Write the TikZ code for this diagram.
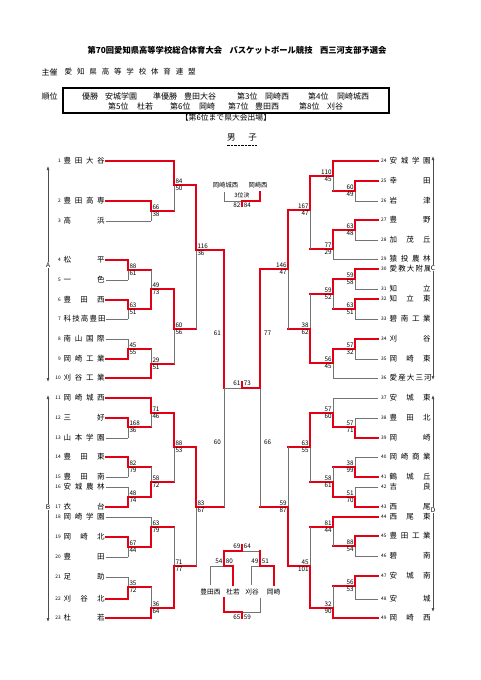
\documentclass[tikz,border=0pt]{standalone}
\usepackage{fontspec}
\setmainfont{Noto Sans CJK JP}
\usetikzlibrary{arrows.meta}
\definecolor{winred}{RGB}{228,0,20}
\definecolor{losegray}{RGB}{115,115,115}
\newcommand{\fs}[1]{\fontsize{#1}{#1}\selectfont}
\tikzset{
  wline/.style={winred,line width=1.6pt,line cap=rect},
  lline/.style={losegray,line width=0.8pt},
  score/.style={font=\fs{6.3},inner sep=0pt},
  tname/.style={font=\fs{7.5},inner sep=0pt},
  tnum/.style={font=\fs{4.8},inner sep=0pt},
  small/.style={font=\fs{6.7},inner sep=0pt},
  sidearr/.style={black!70,line width=0.6pt,{Latex[length=4pt,width=3pt]}-{Latex[length=4pt,width=3pt]}},
  blk/.style={fill=white,inner sep=0.8pt,font=\fs{6.5}},
}
% match: x, upper y, lower y, junction y, out x, upper score, lower score
\newcommand{\lmatch}[7]{
  \draw[lline] (#1,#2) -- (#1,#3);
  \ifnum#6>#7\relax \draw[wline] (#1,#2) -- (#1,#4) -- (#5,#4);
  \else \draw[wline] (#1,#3) -- (#1,#4) -- (#5,#4); \fi
  \node[score,anchor=south west,xshift=1.3pt,yshift=1.1pt] (a#1-#4) at (#1,#4) {#6};
  \node[score,anchor=north west,xshift=1.3pt,yshift=-1.1pt] (b#1-#4) at (#1,#4) {#7};
}
\newcommand{\rmatch}[7]{
  \draw[lline] (#1,#2) -- (#1,#3);
  \ifnum#6>#7\relax \draw[wline] (#1,#2) -- (#1,#4) -- (#5,#4);
  \else \draw[wline] (#1,#3) -- (#1,#4) -- (#5,#4); \fi
  \node[score,anchor=south east,xshift=-1.3pt,yshift=1.1pt] (a#1-#4) at (#1,#4) {#6};
  \node[score,anchor=north east,xshift=-1.3pt,yshift=-1.1pt] (b#1-#4) at (#1,#4) {#7};
}

\begin{document}
\begin{tikzpicture}[x=1pt,y=-1pt]
\useasboundingbox (0,0) rectangle (481,680);
\fill[white] (0,0) rectangle (481,680);

% header
\node[font=\fs{8.3}\bfseries,inner sep=0pt] (title) at (237,50) {第70回愛知県高等学校総合体育大会\hspace{0.9em}バスケットボール競技\hspace{0.9em}西三河支部予選会};
\node[anchor=west,font=\fs{8},inner sep=0pt] (host) at (41.5,72) {主催};
\node[anchor=west,font=\fs{7.5},inner sep=0pt] (hostorg) at (64.5,72) {\makebox[131pt][s]{愛 知 県 高 等 学 校 体 育 連 盟}};
\node[anchor=west,font=\fs{8},inner sep=0pt] (rank) at (41.5,96) {順位};
\draw[line width=1.2pt] (63,88) rectangle (389,113);
\foreach \x/\t in {82/優勝,105/安城学園,153/準優勝,184/豊田大谷,237/第3位,265/岡崎西,308/第4位,337/岡崎城西}
  \node[anchor=west,inner sep=0pt,font=\fs{8}] (p\x) at (\x,96) {\t};
\foreach \x/\t in {108/第5位,137/杜若,170/第6位,199/岡崎,228/第7位,255/豊田西,299/第8位,327/刈谷}
  \node[anchor=west,inner sep=0pt,font=\fs{8}] (q\x) at (\x,106.5) {\t};
\node[font=\fs{7.8},inner sep=0pt] (note) at (226,118) {【第6位まで県大会出場】};
\node[font=\fs{8.5},inner sep=0pt] (boys) at (242,138) {\makebox[30pt][s]{男 子}};
\draw[line width=0.9pt,dash pattern=on 2.5pt off 1pt] (227,145) -- (257,145);

% teams
\foreach \n/\y/\x/\st/\tn in {1/161/174/wline/豊 田 大 谷,2/201/151/wline/豊 田 高 専,3/221/151/lline/高 浜,
  4/260/128/wline/松 平,5/280/128/lline/一 色,6/300/128/wline/豊 田 西,7/319/128/lline/科 技 高 豊 田,
  8/339/128/lline/南 山 国 際,9/359/128/wline/岡 崎 工 業,10/378/151/wline/刈 谷 工 業,
  11/398/151/wline/岡 崎 城 西,12/418/128/wline/三 好,13/438/128/lline/山 本 学 園,14/457/128/wline/豊 田 東,
  15/477/128/lline/豊 田 南,16/487/128/lline/安 城 農 林,17/507/128/wline/衣 台,18/517/151/lline/岡 崎 学 園,
  19/537/128/wline/岡 崎 北,20/557/128/lline/豊 田,21/577/128/lline/足 助,22/599/128/wline/刈 谷 北,
  23/618/151/wline/杜 若} {
  \node[tnum,anchor=east] (n\n) at (61,\y) {\n};
  \node[tname,anchor=west] (t\n) at (63.5,\y) {\makebox[41pt][s]{\tn}};
  \coordinate (e\n) at (106,\y);
  \draw[\st] (e\n) -- (\x,\y);
}
\foreach \n/\y/\x/\st/\tn in {24/161/333/wline/安 城 学 園,25/181/355/wline/幸 田,26/201/355/lline/岩 津,
  27/220/355/wline/豊 野,28/240/355/lline/加 茂 丘,29/259/333/lline/猿 投 農 林,30/269/355/wline/愛 教 大 附 属,
  31/289/355/lline/知 立,32/299/355/wline/知 立 東,33/319/355/lline/碧 南 工 業,34/339/355/wline/刈 谷,
  35/359/355/lline/岡 崎 東,36/378/333/lline/愛 産 大 三 河,37/398/333/lline/安 城 東,38/418/355/lline/豊 田 北,
  39/438/355/wline/岡 崎,40/457/355/lline/岡 崎 商 業,41/477/355/wline/鶴 城 丘,42/487/355/lline/吉 良,
  43/507/355/wline/西 尾,44/517/333/wline/西 尾 東,45/536/355/wline/豊 田 工 業,46/556/355/lline/碧 南,
  47/576/355/wline/安 城 南,48/599/355/lline/安 城,49/618/333/wline/岡 崎 西} {
  \node[tnum,anchor=west] (n\n) at (381,\y) {\n};
  \node[tname,anchor=west] (t\n) at (389.5,\y) {\makebox[41pt][s]{\tn}};
  \coordinate (e\n) at (378,\y);
  \draw[\st] (e\n) -- (\x,\y);
}

% left bracket
\foreach \x/\a/\b/\j/\o/\s/\t in {128/260/280/270/151/88/61,128/300/319/309/151/63/51,128/339/359/349/151/45/55,
  128/418/438/427/151/168/36,128/457/477/467/151/82/79,128/487/507/497/151/48/74,128/537/557/547/151/67/44,
  128/577/599/587/151/35/72,151/201/221/211/174/66/38,151/270/309/289/174/49/73,151/349/378/364/174/29/51,
  151/398/427/413/174/71/46,151/467/497/482/174/58/72,151/517/547/527/174/63/79,151/587/618/608/174/36/64,
  174/161/211/185/196/84/50,174/289/364/329/196/60/56,174/413/482/447/196/88/53,174/527/608/566/196/71/77,
  196/185/329/250/224/116/36,196/447/566/507/224/83/67}
  {\lmatch{\x}{\a}{\b}{\j}{\o}{\s}{\t}}
\draw[lline] (224,250) -- (224,507);
\draw[wline] (224,250) -- (224,388);
\node[score,anchor=east] (sl1) at (221,333) {61};
\node[score,anchor=east] (sl2) at (221,442) {60};

% right bracket
\foreach \x/\a/\b/\j/\o/\s/\t in {355/181/201/191/333/60/49,355/220/240/230/333/63/48,355/269/289/279/333/59/58,
  355/299/319/309/333/63/51,355/339/359/349/333/57/32,355/418/438/427/333/57/71,355/457/477/467/333/38/99,
  355/487/507/497/333/51/70,355/536/556/546/333/88/54,355/576/599/586/333/56/53,333/161/191/176/310/110/45,
  333/230/259/249/310/77/29,333/279/309/294/310/59/52,333/349/378/363/310/56/45,333/398/427/413/310/57/60,
  333/467/497/482/310/58/61,333/517/546/527/310/81/44,333/586/618/608/310/32/90,310/176/249/210/288/167/47,
  310/294/363/329/288/38/62,310/413/482/447/288/63/55,310/527/608/566/288/45/101,
  288/210/329/269/260/146/47,288/447/566/507/260/59/87}
  {\rmatch{\x}{\a}{\b}{\j}{\o}{\s}{\t}}
\draw[lline] (260,269) -- (260,507);
\draw[wline] (260,269) -- (260,388);
\node[score,anchor=west] (sr1) at (264,333) {77};
\node[score,anchor=west] (sr2) at (264,442) {66};

% final
\draw[lline] (224,388) -- (242,388);
\draw[wline] (260,388) -- (242,388) -- (242,382);
\node[score,anchor=east] (f1) at (240.6,383.5) {61};
\node[score,anchor=west] (f2) at (243.6,383.5) {73};

% 3rd place
\node[font=\fs{6.3},inner sep=0pt] (th1) at (225.5,185) {岡崎城西};
\node[font=\fs{6.3},inner sep=0pt] (th2) at (258,185) {岡崎西};
\draw[lline] (224,192) -- (224,201) -- (242,201);
\draw[wline] (260,192) -- (260,201) -- (242,201) -- (242,206);
\node[font=\fs{5.9},inner sep=0pt] (third) at (242,195.5) {3位決};
\node[score,anchor=east] (th3) at (240.6,205) {82};
\node[score,anchor=west] (th4) at (243.6,205) {84};

% 5th-8th
\node[small] (c1) at (210.5,592) {豊田西};
\node[small] (c2) at (233,592) {杜若};
\node[small] (c3) at (252,592) {刈谷};
\node[small] (c4) at (273.5,592) {岡崎};
\draw[lline] (210,585) -- (210,566) -- (224,566);
\draw[lline] (251,585) -- (251,566) -- (260,566);
\draw[lline] (260,551) -- (242,551);
\draw[wline] (233,585) -- (233,566) -- (224,566) -- (224,551) -- (242,551) -- (242,545);
\draw[wline] (274,585) -- (274,566) -- (260,566) -- (260,551);
\node[score,anchor=east] (c5) at (222.6,561) {54};
\node[score,anchor=west] (c6) at (225.6,561) {80};
\node[score,anchor=east] (c7) at (258.6,561) {49};
\node[score,anchor=west] (c8) at (261.6,561) {51};
\node[score,anchor=east] (c9) at (240.6,546) {69};
\node[score,anchor=west] (c10) at (243.6,546) {64};
\draw[lline] (260,598) -- (260,612) -- (242,612);
\draw[wline] (224,598) -- (224,612) -- (242,612) -- (242,618);
\node[score,anchor=east] (c11) at (240.6,617.5) {65};
\node[score,anchor=west] (c12) at (243.6,617.5) {59};

% blocks
\coordinate (A1) at (48,166); \coordinate (A2) at (48,382);
\coordinate (B1) at (48,395); \coordinate (B2) at (48,622);
\coordinate (C1) at (433,156); \coordinate (C2) at (433,380);
\coordinate (D1) at (433,395); \coordinate (D2) at (433,612);
\draw[sidearr] (A1) -- (A2);
\draw[sidearr] (B1) -- (B2);
\draw[sidearr] (C1) -- (C2);
\draw[sidearr] (D1) -- (D2);
\node[blk] (blA) at (48,265) {A};
\node[blk] (blB) at (48,507) {B};
\node[blk] (blC) at (433,268) {C};
\node[blk] (blD) at (433,510) {D};
\end{tikzpicture}
\end{document}
